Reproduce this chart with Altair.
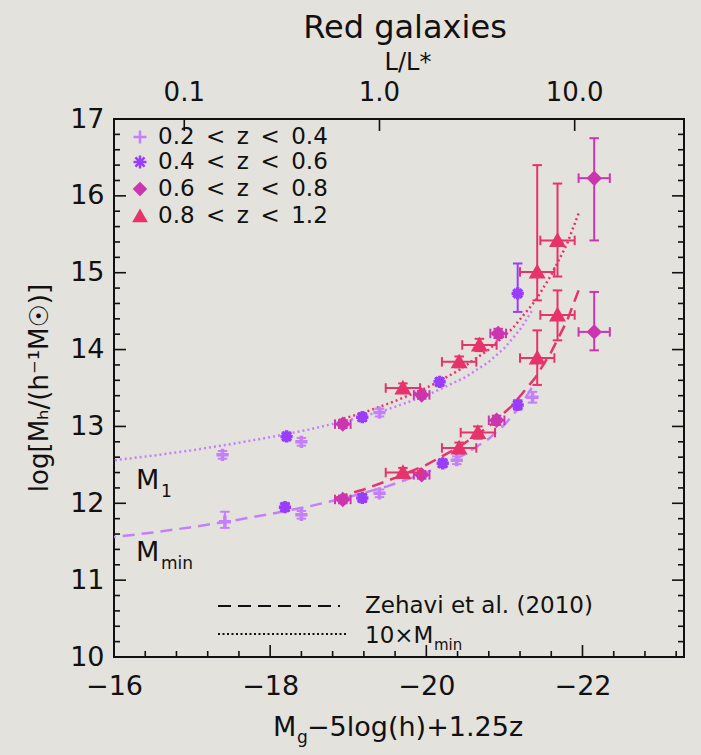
import math
import altair as alt
import pandas as pd

FONT = "DejaVu Sans"
INK = "#111111"
W, H = 570, 538

# ---- redshift bins ---------------------------------------------------------
z_bins = ["0.2\u2002<\u2002z\u2002<\u20020.4", "0.4\u2002<\u2002z\u2002<\u20020.6",
          "0.6\u2002<\u2002z\u2002<\u20020.8", "0.8\u2002<\u2002z\u2002<\u20021.2"]
bin_colors = ["#c480fa", "#9a3dfb", "#cc35b0", "#e6336c"]
PLUS = "M-1,0L1,0M0,-1L0,1"
ASTER = "M-1,0L1,0M0,-1L0,1M-0.7,-0.7L0.7,0.7M-0.7,0.7L0.7,-0.7"
bin_shapes = [PLUS, ASTER, "diamond", "triangle-up"]

# ---- measured halo masses (log Mh) vs magnitude -----------------------------
# M_min
z1_min_mag = [-17.42, -18.40, -19.40, -20.39, -21.36]
z1_min_val = [11.76, 11.85, 12.13, 12.56, 13.38]
z1_min_elo = [0.08, 0.05, 0.05, 0.05, 0.07]
z1_min_ehi = [0.13, 0.05, 0.05, 0.05, 0.07]
z1_min_dm = [0.0, 0.0, 0.0, 0.0, 0.0]

z2_min_mag = [-18.19, -19.18, -20.21, -21.17]
z2_min_val = [11.95, 12.07, 12.52, 13.28]
z2_min_elo = [0.05, 0.05, 0.05, 0.06]
z2_min_ehi = [0.05, 0.05, 0.05, 0.06]
z2_min_dm = [0.0, 0.0, 0.0, 0.0]

z3_min_mag = [-18.93, -19.94, -20.90, -22.15]
z3_min_val = [12.05, 12.37, 13.08, 14.23]
z3_min_elo = [0.05, 0.05, 0.06, 0.24]
z3_min_ehi = [0.05, 0.05, 0.06, 0.52]
z3_min_dm = [0.10, 0.10, 0.10, 0.20]

z4_min_mag = [-19.70, -20.42, -20.66, -21.42, -21.68]
z4_min_val = [12.40, 12.72, 12.92, 13.89, 14.45]
z4_min_elo = [0.06, 0.07, 0.08, 0.35, 0.33]
z4_min_ehi = [0.06, 0.07, 0.08, 0.36, 0.32]
z4_min_dm = [0.22, 0.22, 0.22, 0.22, 0.22]

# M_1
z1_m1_mag = [-17.39, -18.40, -19.40]
z1_m1_val = [12.63, 12.80, 13.18]
z1_m1_elo = [0.05, 0.05, 0.05]
z1_m1_ehi = [0.05, 0.05, 0.05]
z1_m1_dm = [0.0, 0.0, 0.0]

z2_m1_mag = [-18.21, -19.18, -20.17, -21.17]
z2_m1_val = [12.87, 13.12, 13.58, 14.73]
z2_m1_elo = [0.05, 0.05, 0.05, 0.24]
z2_m1_ehi = [0.05, 0.05, 0.05, 0.39]
z2_m1_dm = [0.0, 0.0, 0.0, 0.0]

z3_m1_mag = [-18.93, -19.94, -20.92, -22.15]
z3_m1_val = [13.03, 13.41, 14.21, 16.23]
z3_m1_elo = [0.05, 0.05, 0.06, 0.81]
z3_m1_ehi = [0.05, 0.05, 0.06, 0.52]
z3_m1_dm = [0.10, 0.10, 0.10, 0.20]

z4_m1_mag = [-19.70, -20.42, -20.68, -21.42, -21.68]
z4_m1_val = [13.50, 13.84, 14.06, 15.01, 15.42]
z4_m1_elo = [0.06, 0.07, 0.08, 0.37, 0.47]
z4_m1_ehi = [0.06, 0.07, 0.08, 1.39, 0.74]
z4_m1_dm = [0.22, 0.22, 0.22, 0.22, 0.22]

# ---- Zehavi et al. (2010) model curves ---------------------------------------
lav_mag = [-16.0, -16.5, -17.0, -17.5, -18.0, -18.5, -19.0, -19.5, -20.0, -20.5, -20.8, -21.0, -21.2, -21.35]
lav_dash = [11.56, 11.62, 11.69, 11.77, 11.86, 11.96, 12.08, 12.22, 12.40, 12.64, 12.84, 13.02, 13.26, 13.50]
lav_dot = [12.56, 12.62, 12.69, 12.77, 12.86, 12.96, 13.08, 13.22, 13.40, 13.64, 13.84, 14.02, 14.26, 14.50]
pink_mag = [-18.8, -19.2, -19.6, -20.0, -20.4, -20.8, -21.1, -21.4, -21.6, -21.8, -21.95]
pink_dash = [12.06, 12.18, 12.33, 12.50, 12.72, 13.00, 13.27, 13.64, 13.97, 14.37, 14.77]
pink_dot = [13.06, 13.18, 13.33, 13.50, 13.72, 14.00, 14.27, 14.64, 14.97, 15.37, 15.77]

# ---- axes ------------------------------------------------------------------
M_STAR = -19.4
top_L = [0.1, 1.0, 10.0]
top_L_labels = ["0.1", "1.0", "10.0"]
y_major = [10, 11, 12, 13, 14, 15, 16, 17]
x_major = [-16, -18, -20, -22]

y_minor = [round(10 + 0.2 * i, 1) for i in range(36) if i % 5]
x_minor = [round(-16 - 0.4 * i, 1) for i in range(19) if i % 5]

AX_X = alt.Axis(values=x_major, ticks=False, domain=False, grid=False, title=None,
                labelFont=FONT, labelFontSize=27, labelColor=INK, labelPadding=16,
                labelFlush=False)
AX_Y = alt.Axis(values=y_major, ticks=False, domain=False, grid=False, title=None,
                labelFont=FONT, labelFontSize=27, labelColor=INK, labelPadding=10,
                labelFlush=False)
XS = alt.Scale(domain=[-16, -23.3], nice=False, zero=False)
YS = alt.Scale(domain=[10, 17], nice=False, zero=False)


def X(f):
    return alt.X(f"{f}:Q", scale=XS, axis=AX_X)


def Y(f):
    return alt.Y(f"{f}:Q", scale=YS, axis=AX_Y)


def frame(mag, val, elo, ehi, dm):
    return pd.DataFrame({
        "mag": mag, "val": val,
        "lo": [v - e for v, e in zip(val, elo)],
        "hi": [v + e for v, e in zip(val, ehi)],
        "mlo": [m + d for m, d in zip(mag, dm)],
        "mhi": [m - d for m, d in zip(mag, dm)],
        "dm": dm,
    })


series = [
    (0, frame(z1_min_mag, z1_min_val, z1_min_elo, z1_min_ehi, z1_min_dm)),
    (0, frame(z1_m1_mag, z1_m1_val, z1_m1_elo, z1_m1_ehi, z1_m1_dm)),
    (1, frame(z2_min_mag, z2_min_val, z2_min_elo, z2_min_ehi, z2_min_dm)),
    (1, frame(z2_m1_mag, z2_m1_val, z2_m1_elo, z2_m1_ehi, z2_m1_dm)),
    (2, frame(z3_min_mag, z3_min_val, z3_min_elo, z3_min_ehi, z3_min_dm)),
    (2, frame(z3_m1_mag, z3_m1_val, z3_m1_elo, z3_m1_ehi, z3_m1_dm)),
    (3, frame(z4_min_mag, z4_min_val, z4_min_elo, z4_min_ehi, z4_min_dm)),
    (3, frame(z4_m1_mag, z4_m1_val, z4_m1_elo, z4_m1_ehi, z4_m1_dm)),
]

layers = []

# model curves
models = [
    (lav_mag, lav_dash, bin_colors[0], [12, 7]),
    (lav_mag, lav_dot, bin_colors[0], [2, 3]),
    (pink_mag, pink_dash, bin_colors[3], [12, 7]),
    (pink_mag, pink_dot, bin_colors[3], [2, 3]),
]
for mags, vals, col, dash in models:
    layers.append(
        alt.Chart(pd.DataFrame({"mag": mags, "val": vals}))
        .mark_line(color=col, strokeDash=dash, strokeWidth=2.5, clip=True)
        .encode(x=X("mag"), y=Y("val"), order="mag:Q")
    )

# error bars and symbols
HCAP = "M0,-1L0,1"
VCAP = "M-1,0L1,0"
sizes = [150, 150, 110, 120]
for k, df in series:
    col = bin_colors[k]
    base = alt.Chart(df)
    layers.append(base.mark_rule(color=col, strokeWidth=2).encode(x=X("mag"), y=Y("lo"), y2="hi"))
    hb = base.transform_filter("datum.dm > 0")
    layers.append(hb.mark_rule(color=col, strokeWidth=2).encode(x=X("mlo"), x2="mhi", y=Y("val")))
    for f in ("mlo", "mhi"):
        layers.append(hb.mark_point(shape=HCAP, size=90, stroke=col, strokeWidth=2, opacity=1)
                      .encode(x=X(f), y=Y("val")))
    for f in ("lo", "hi"):
        layers.append(base.mark_point(shape=VCAP, size=90, stroke=col, strokeWidth=2, opacity=1)
                      .encode(x=X("mag"), y=Y(f)))
    filled = k >= 2
    layers.append(
        base.mark_point(shape=bin_shapes[k], size=sizes[k], filled=filled, fill=col, stroke=col,
                        strokeWidth=3.5, opacity=1)
        .encode(x=X("mag"), y=Y("val"))
    )

# inward ticks on all four sides
ym = pd.DataFrame({"val": y_major})
yn = pd.DataFrame({"val": y_minor})
xm = pd.DataFrame({"mag": x_major})
xn = pd.DataFrame({"mag": x_minor})
for d, L in ((ym, 12), (yn, 6)):
    layers.append(alt.Chart(d).mark_rule(color=INK, strokeWidth=1.6)
                  .encode(y=Y("val"), x=alt.value(0), x2=alt.value(L)))
    layers.append(alt.Chart(d).mark_rule(color=INK, strokeWidth=1.6)
                  .encode(y=Y("val"), x=alt.value(W), x2=alt.value(W - L)))
for d, L in ((xm, 12), (xn, 6)):
    layers.append(alt.Chart(d).mark_rule(color=INK, strokeWidth=1.6)
                  .encode(x=X("mag"), y=alt.value(H), y2=alt.value(H - L)))

# top axis: luminosity in units of L*
top = pd.DataFrame({"mag": [M_STAR - 2.5 * math.log10(v) for v in top_L], "lab": top_L_labels})
layers.append(alt.Chart(top).mark_rule(color=INK, strokeWidth=1.6)
              .encode(x=X("mag"), y=alt.value(0), y2=alt.value(12)))
layers.append(alt.Chart(top).mark_text(font=FONT, fontSize=26, color=INK, baseline="middle")
              .encode(x=X("mag"), y=alt.value(-26), text="lab:N"))

one = pd.DataFrame({"a": [0]})


def txt(s, x, y, size, align="left", baseline="alphabetic", angle=0):
    kw = dict(font=FONT, fontSize=size, color=INK, align=align, baseline=baseline)
    if angle:
        kw["angle"] = angle
    return (alt.Chart(one).mark_text(**kw)
            .encode(x=alt.value(x), y=alt.value(y), text=alt.value(s)))


# symbol legend
leg_y = [18, 43, 70, 97]
leg_sizes = [170, 170, 120, 130]
for k, lab in enumerate(z_bins):
    layers.append(
        alt.Chart(one).mark_point(shape=bin_shapes[k], size=leg_sizes[k], filled=(k == 1),
                                  fill=bin_colors[k], stroke=bin_colors[k], strokeWidth=2.5, opacity=1)
        .encode(x=alt.value(26), y=alt.value(leg_y[k]))
    )
    layers.append(txt(lab, 44, leg_y[k], 23, baseline="middle"))

# line-style legend
layers.append(alt.Chart(one).mark_rule(color=INK, strokeWidth=2.2, strokeDash=[13, 7])
              .encode(x=alt.value(104), x2=alt.value(226), y=alt.value(487)))
layers.append(alt.Chart(one).mark_rule(color=INK, strokeWidth=2, strokeDash=[2, 2.5])
              .encode(x=alt.value(104), x2=alt.value(233), y=alt.value(515)))
layers.append(txt("Zehavi et al. (2010)", 251, 487, 23, baseline="middle"))
layers.append(txt("10\u00d7M", 251, 524, 23))
layers.append(txt("min", 320, 531, 15))

# curve labels
layers.append(txt("M", 22, 370, 27))
layers.append(txt("1", 47, 378, 17))
layers.append(txt("M", 22, 442, 27))
layers.append(txt("min", 47, 450, 17))

# titles
layers.append(txt("Red galaxies", 291, -91, 32, align="center", baseline="middle"))
layers.append(txt("L/L*", 294, -56, 24, align="center", baseline="middle"))
layers.append(txt("M", 159, 617, 27))
layers.append(txt("g", 183, 624, 17))
layers.append(txt("\u22125log(h)+1.25z", 193, 617, 27))
layers.append(txt("log[M\u2095/(h\u207b\u00b9M\u2609)]", -74, H / 2, 26,
                  align="center", baseline="middle", angle=270))

chart = (
    alt.layer(*layers)
    .properties(width=W, height=H, autosize=alt.AutoSizeParams(type="none"),
                padding={"left": 114, "top": 119, "right": 17, "bottom": 98})
    .configure(background="#e4e2dc")
    .configure_view(stroke=INK, strokeWidth=2)
)

chart.save("out.html", embed_options={"renderer": "svg", "actions": False})
